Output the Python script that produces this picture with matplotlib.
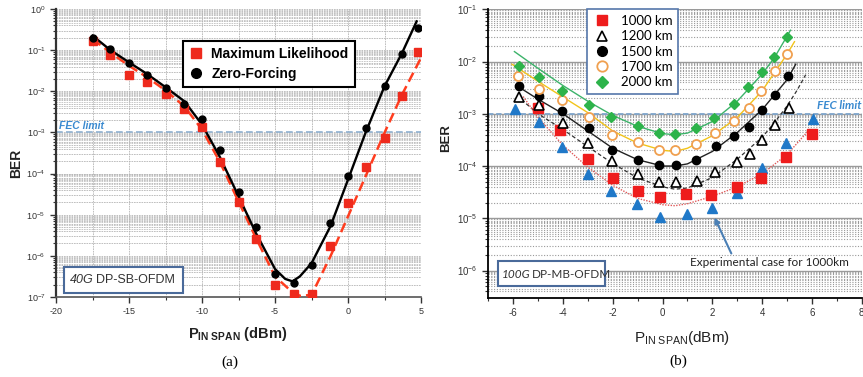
import matplotlib
matplotlib.use('Agg')
import matplotlib.pyplot as plt
from matplotlib.lines import Line2D
from matplotlib.patches import Rectangle
from matplotlib.ticker import LogLocator, MultipleLocator, NullFormatter
from matplotlib.font_manager import FontProperties

plt.rcParams['mathtext.fontset'] = 'custom'
plt.rcParams['mathtext.rm'] = 'Liberation Sans'
plt.rcParams['mathtext.bf'] = 'Liberation Sans:bold'
plt.rcParams['mathtext.it'] = 'Liberation Sans:italic'
plt.rcParams['font.family'] = ['Liberation Sans', 'DejaVu Sans']
plt.rcParams['axes.unicode_minus'] = False

# ---------------- Panel (a) data ----------------
a_x = [-17.5, -16.3, -15.0, -13.8, -12.5, -11.2, -10.0, -8.8, -7.5, -6.3,
       -5.0, -3.7, -2.5, -1.2, 0.0, 1.2, 2.5, 3.7, 4.8]
a_ml = [0.17, 0.078, 0.025, 0.0165, 0.0084, 0.0037, 1.33e-3, 1.87e-4, 2.0e-5, 2.5e-6,
        1.95e-7, 1.2e-7, 1.18e-7, 1.7e-6, 1.9e-5, 1.44e-4, 7.4e-4, 7.5e-3, 0.09]
a_zf = [0.197, 0.107, 0.0487, 0.0248, 0.012, 0.005, 2.16e-3, 3.66e-4, 3.5e-5, 4.9e-6,
        3.6e-7, 2.2e-7, 6.1e-7, 6.3e-6, 8.9e-5, 1.28e-3, 1.32e-2, 8.2e-2, 0.34]

a_zf_fit_x = [-17.5, -16.3, -15, -13.8, -12.5, -11.2, -10, -8.8, -7.5, -6.3, -5,
              -4.3, -3.8, -3.3, -2.5, -1.2, 0, 1.2, 2.5, 3.7, 4.7]
a_zf_fit = [0.225, 0.102, 0.0505, 0.0269, 0.0126, 0.00569, 0.00155, 2.63e-4, 2.82e-5,
            3.55e-6, 4.8e-7, 2.75e-7, 2.4e-7, 3.16e-7, 6.6e-7, 5.25e-6, 7.1e-5, 9.8e-4,
            0.0132, 0.085, 0.5]
a_ml_fit_x = [-17.5, -16.3, -15, -13.8, -12.5, -11.2, -10, -8.8, -7.5, -6.3, -5, -4,
              -3.3, -2.5, -1.2, 0, 1.2, 2.5, 3.7, 5]
a_ml_fit = [0.186, 0.089, 0.0417, 0.0224, 0.0105, 0.00427, 0.00117, 2.0e-4, 2.1e-5,
            2.7e-6, 3.16e-7, 1.5e-7, 1.07e-7, 1.12e-7, 9.8e-7, 9.1e-6, 8.5e-5, 9.8e-4,
            8.3e-3, 0.065]

# ---------------- Panel (b) data ----------------
b1000_x = [-5.0, -4.1, -3.0, -2.0, -1.0, -0.1, 0.95, 1.95, 3.0, 3.95, 4.95, 6.0]
b1000 = [1.28e-3, 4.9e-4, 1.37e-4, 6.0e-5, 3.4e-5, 2.5e-5, 2.9e-5, 2.8e-5, 4.0e-5,
         5.9e-5, 1.5e-4, 4.1e-4]
b1200_x = [-5.77, -4.97, -4.01, -2.99, -2.02, -1.0, -0.14, 0.53, 1.37, 2.12, 2.99,
           3.51, 4.01, 4.52, 5.06]
b1200 = [2.14e-3, 1.48e-3, 6.6e-4, 2.73e-4, 1.24e-4, 6.9e-5, 5.0e-5, 5.0e-5, 5.2e-5,
         7.8e-5, 1.18e-4, 1.7e-4, 3.16e-4, 6.1e-4, 1.28e-3]
b1500_x = [-5.77, -4.97, -4.04, -2.97, -2.02, -1.0, -0.16, 0.53, 1.33, 2.14, 2.89,
           3.47, 4.01, 4.52, 5.02]
b1500 = [3.4e-3, 2.2e-3, 1.13e-3, 5.3e-4, 2.03e-4, 1.31e-4, 1.07e-4, 1.04e-4, 1.31e-4,
         2.4e-4, 3.8e-4, 5.7e-4, 1.19e-3, 2.33e-3, 5.3e-3]
b1700_x = [-5.81, -4.97, -4.02, -2.97, -2.02, -1.0, -0.16, 0.51, 1.33, 2.11, 2.86,
           3.47, 3.94, 4.52, 4.99]
b1700 = [5.3e-3, 2.95e-3, 1.8e-3, 8.85e-4, 4.0e-4, 2.94e-4, 2.03e-4, 2.0e-4, 2.6e-4,
         4.36e-4, 7.4e-4, 1.28e-3, 2.78e-3, 6.6e-3, 1.4e-2]
b2000_x = [-5.77, -4.97, -4.04, -2.97, -2.09, -0.99, -0.16, 0.51, 1.33, 2.08, 2.86,
           3.45, 4.01, 4.49, 5.01]
b2000 = [8.4e-3, 5.15e-3, 2.78e-3, 1.5e-3, 8.6e-4, 5.9e-4, 4.37e-4, 4.1e-4, 5.4e-4,
         8.2e-4, 1.57e-3, 3.2e-3, 6.3e-3, 1.21e-2, 2.9e-2]
bexp_x = [-5.93, -4.97, -4.04, -3.01, -2.06, -1.01, -0.12, 0.98, 1.98, 2.99, 3.99,
          4.96, 6.06]
bexp = [1.22e-3, 7.1e-4, 2.36e-4, 7.1e-5, 3.4e-5, 1.9e-5, 1.08e-5, 1.2e-5, 1.6e-5,
        3.0e-5, 9.1e-5, 2.73e-4, 7.9e-4]

fit2000_x = [-5.95, -5, -4, -3, -2, -1, 0, 0.5, 1, 2, 3, 4, 4.5, 5.14]
fit2000 = [1.55e-2, 7.4e-3, 3.47e-3, 1.74e-3, 9.3e-4, 5.75e-4, 4.17e-4, 3.98e-4,
           4.27e-4, 7.1e-4, 1.74e-3, 5.75e-3, 1.2e-2, 3.98e-2]
fit1700_x = [-6.05, -5, -4, -3, -2, -1, 0, 0.5, 1, 2, 3, 4, 5, 5.3]
fit1700 = [8.9e-3, 4.17e-3, 2.09e-3, 1.05e-3, 4.68e-4, 2.75e-4, 2.0e-4, 1.9e-4,
           2.19e-4, 3.8e-4, 8.5e-4, 2.75e-3, 1.38e-2, 2.4e-2]
fit1500_x = [-5.9, -5, -4, -3, -2, -1, 0, 0.5, 1, 2, 3, 4, 5, 5.35]
fit1500 = [3.55e-3, 1.9e-3, 1.0e-3, 4.68e-4, 2.19e-4, 1.32e-4, 1.0e-4, 1.0e-4,
           1.1e-4, 1.9e-4, 4.37e-4, 1.2e-3, 4.47e-3, 8.9e-3]
fit1200_x = [-5.67, -5, -4, -3, -2, -1, 0, 0.5, 1, 2, 3, 4, 4.5, 5, 5.4, 5.75]
fit1200 = [1.86e-3, 1.0e-3, 5.0e-4, 2.34e-4, 1.12e-4, 5.9e-5, 4.0e-5, 3.6e-5, 3.8e-5,
           6.0e-5, 1.35e-4, 3.55e-4, 6.8e-4, 1.41e-3, 2.8e-3, 5.6e-3]
fit1000_x = [-5.6, -5, -4, -3, -2, -1, 0, 0.5, 1, 2, 3, 4, 5, 5.9]
fit1000 = [2.14e-3, 8.5e-4, 2.5e-4, 9.5e-5, 4.27e-5, 2.4e-5, 1.82e-5, 1.74e-5, 1.9e-5,
           2.63e-5, 4.0e-5, 7.1e-5, 1.66e-4, 5.0e-4]

legend_a = ['Maximum Likelihood', 'Zero-Forcing']
legend_b = ['1000 km', '1200 km', '1500 km', '1700 km', '2000 km']

W, H = 863, 377
fig = plt.figure(figsize=(W / 100, H / 100), dpi=100)


def fx(px):
    return px / W


def fy(py):
    return 1 - py / H


def dense_grid(ax, lo, hi, color, ls, lw):
    for e in range(lo, hi):
        for m in [4.5, 5.5, 6.5, 7.5, 8.5, 9.5]:
            ax.axhline(m * 10.0 ** e, color=color, ls=ls, lw=lw, zorder=0)


# ===================== Panel (a) =====================
axa = fig.add_axes([fx(56), fy(297), fx(365), 288 / H])
axa.set_yscale('log')
axa.set_xlim(-20, 5)
axa.set_ylim(1e-7, 1)
axa.xaxis.set_major_locator(MultipleLocator(5))
axa.xaxis.set_minor_locator(MultipleLocator(2.5))
axa.yaxis.set_major_locator(LogLocator(base=10, numticks=20))
axa.yaxis.set_minor_locator(LogLocator(base=10, subs=range(2, 10), numticks=20))
axa.yaxis.set_minor_formatter(NullFormatter())
gstyle = dict(color='#b5b5b5', ls=(0, (2, 1)), lw=0.6)
axa.grid(True, which='both', axis='both', **gstyle)
dense_grid(axa, -8, 0, '#c0c0c0', (0, (2, 1)), 0.6)
axa.set_axisbelow(True)
for s in ['top', 'right']:
    axa.spines[s].set_visible(False)
axa.spines['left'].set_linewidth(1.6)
axa.spines['left'].set_color('#333333')
axa.spines['bottom'].set_linewidth(1.2)
axa.spines['bottom'].set_color('#555555')
axa.tick_params(axis='both', which='major', direction='out', length=4, width=1,
                labelsize=6.5, colors='#333333')
axa.tick_params(axis='both', which='minor', direction='out', length=2.5, width=0.8,
                colors='#333333')

axa.axhline(1e-3, color='#8fb0d0', ls=(0, (4, 2)), lw=1.2, zorder=1)
axa.text(-19.8, 1.45e-3, 'FEC limit', color='#3a8ad0', style='italic',
         weight='bold', fontsize=7.5, va='center', ha='left')

axa.plot(a_ml_fit_x, a_ml_fit, color='#ff3d1f', ls=(0, (4, 2)), lw=1.8, zorder=3)
axa.plot(a_zf_fit_x, a_zf_fit, color='black', lw=1.7, zorder=3)
axa.plot(a_x, a_ml, 's', color='#ee2a1d', ms=5.3, zorder=4, ls='none')
axa.plot(a_x, a_zf, 'o', color='black', ms=5.0, zorder=4, ls='none')

ha = [Line2D([], [], marker='s', color='#ee2a1d', ls='none', ms=7),
      Line2D([], [], marker='o', color='black', ls='none', ms=7)]
lega = axa.legend(ha, legend_a, loc='upper left', bbox_to_anchor=(fx(183), fy(41)),
                  bbox_transform=fig.transFigure, borderaxespad=0, fancybox=False,
                  framealpha=1, edgecolor='black',
                  prop=FontProperties(family='Liberation Sans', weight='bold', size=10),
                  handlelength=1.0, handletextpad=0.6, borderpad=0.45, labelspacing=0.4)
lega.get_frame().set_linewidth(1.5)
lega.set_zorder(6)

fig.add_artist(Rectangle((fx(64), fy(293)), 119 / W, 26 / H, transform=fig.transFigure,
                         fc='white', ec='#4a6a9a', lw=1.5, zorder=5))
fig.text(fx(70), fy(280), '40G', style='italic', fontsize=9, va='center', ha='left',
         color='#333333', zorder=6)
fig.text(fx(96), fy(280), 'DP-SB-OFDM', fontsize=9, va='center', ha='left',
         color='#333333', zorder=6)

fig.text(fx(16), fy(163), 'BER', rotation=90, weight='bold', fontsize=10,
         ha='center', va='center', color='#222222')
fig.text(fx(238), fy(334), r'$\mathbf{P_{IN\ SPAN}}$ (dBm)', weight='bold',
         fontsize=10.5, ha='center', va='center', color='#222222')
fig.text(fx(230), fy(362), '(a)', family='Liberation Serif', fontsize=11,
         ha='center', va='center')

# ===================== Panel (b) =====================
axb = fig.add_axes([fx(488.3), fy(297.7), 373.4 / W, 288.4 / H])
axb.set_yscale('log')
axb.set_xlim(-7, 8)
axb.set_ylim(10 ** -6.52, 1e-1)
axb.xaxis.set_major_locator(MultipleLocator(2))
axb.xaxis.set_minor_locator(MultipleLocator(1))
axb.yaxis.set_major_locator(LogLocator(base=10, numticks=20))
axb.yaxis.set_minor_locator(LogLocator(base=10, subs=range(2, 10), numticks=20))
axb.yaxis.set_minor_formatter(NullFormatter())
axb.grid(True, which='major', axis='y', color='#9a9a9a', lw=1.0, ls='-')
axb.grid(True, which='minor', axis='y', color='#9a9a9a', lw=0.8, ls=(0, (1, 1.5)))
dense_grid(axb, -7, -1, '#9a9a9a', (0, (1, 1.5)), 0.8)
axb.set_axisbelow(True)
for s in ['top', 'right']:
    axb.spines[s].set_visible(False)
axb.spines['left'].set_linewidth(1.3)
axb.spines['bottom'].set_linewidth(1.3)
axb.tick_params(axis='both', which='major', direction='out', length=4, width=1,
                labelsize=7, colors='#333333')
axb.tick_params(axis='both', which='minor', direction='out', length=2.5, width=0.8,
                colors='#333333')

axb.axhline(1e-3, color='#7fa6cc', ls=(0, (3, 1.5)), lw=1.3, zorder=1)
axb.text(6.22, 1.45e-3, 'FEC limit', family='Lato', color='#3a8ad0', style='italic',
         weight='bold', fontsize=8.5, va='center', ha='left')

axb.plot(fit2000_x, fit2000, color='#3cb36a', lw=1.0, zorder=3)
axb.plot(fit1700_x, fit1700, color='#f2c41a', lw=1.0, zorder=3)
axb.plot(fit1500_x, fit1500, color='#222222', lw=1.0, zorder=3)
axb.plot(fit1200_x, fit1200, color='#333333', lw=0.9, ls=(0, (3, 2)), zorder=3)
axb.plot(fit1000_x, fit1000, color='#e05a5a', lw=1.0, ls=(0, (1, 1)), zorder=3)

axb.plot(bexp_x, bexp, '^', color='#1f78c8', ms=7, ls='none', zorder=4)
axb.plot(b1000_x, b1000, 's', color='#ee1c1c', ms=7, ls='none', zorder=4)
axb.plot(b1200_x, b1200, '^', mfc='white', mec='black', mew=1.2, ms=6.5, ls='none', zorder=4)
axb.plot(b1500_x, b1500, 'o', color='black', ms=6, ls='none', zorder=4)
axb.plot(b1700_x, b1700, 'o', mfc='white', mec='#f0a050', mew=1.3, ms=6.5, ls='none', zorder=4)
axb.plot(b2000_x, b2000, 'D', color='#2db34a', ms=5.5, ls='none', zorder=4)

hb = [Line2D([], [], marker='s', color='#ee1c1c', ls='none', ms=7.5),
      Line2D([], [], marker='^', mfc='white', mec='black', mew=1.2, ls='none', ms=7.5),
      Line2D([], [], marker='o', color='black', ls='none', ms=7),
      Line2D([], [], marker='o', mfc='white', mec='#f0a050', mew=1.3, ls='none', ms=7.5),
      Line2D([], [], marker='D', color='#2db34a', ls='none', ms=6.5)]
legb = axb.legend(hb, legend_b, loc='upper left', bbox_to_anchor=(fx(587), fy(9)),
                  bbox_transform=fig.transFigure, borderaxespad=0, fancybox=False,
                  framealpha=1, edgecolor='#5577aa',
                  prop=FontProperties(family='Lato', size=9.5),
                  handlelength=1.3, handletextpad=0.8, borderpad=0.45, labelspacing=0.25)
legb.get_frame().set_linewidth(1.2)
legb.set_zorder(6)

axb.annotate('', xy=(2.04, 1.15e-5), xytext=(2.81, 1.9e-6),
             arrowprops=dict(arrowstyle='-|>', color='#4a7fb5', lw=1.5,
                             mutation_scale=8), zorder=5)
axb.text(4.29, 1.4e-6, 'Experimental case for 1000km', family='Lato', fontsize=8.5,
         ha='center', va='center', color='#222222', zorder=5)

fig.add_artist(Rectangle((fx(498), fy(286)), 107 / W, 25 / H, transform=fig.transFigure,
                         fc='white', ec='#4a6a9a', lw=1.5, zorder=5))
fig.text(fx(502), fy(274), '100G', family='Lato', style='italic', fontsize=8.5,
         va='center', ha='left', color='#333333', zorder=6)
fig.text(fx(532), fy(274), 'DP-MB-OFDM', family='Lato', fontsize=8.5, va='center',
         ha='left', color='#333333', zorder=6)

fig.text(fx(446), fy(138), 'BER', rotation=90, weight='bold', fontsize=9.5,
         ha='center', va='center', color='#222222')
fig.text(fx(682), fy(338), r'$\mathrm{P_{IN\ SPAN}}$(dBm)', fontsize=11,
         ha='center', va='center', color='#222222')
fig.text(fx(678), fy(361), '(b)', family='Liberation Serif', fontsize=11,
         ha='center', va='center')

fig.savefig('out.png', dpi=100)
